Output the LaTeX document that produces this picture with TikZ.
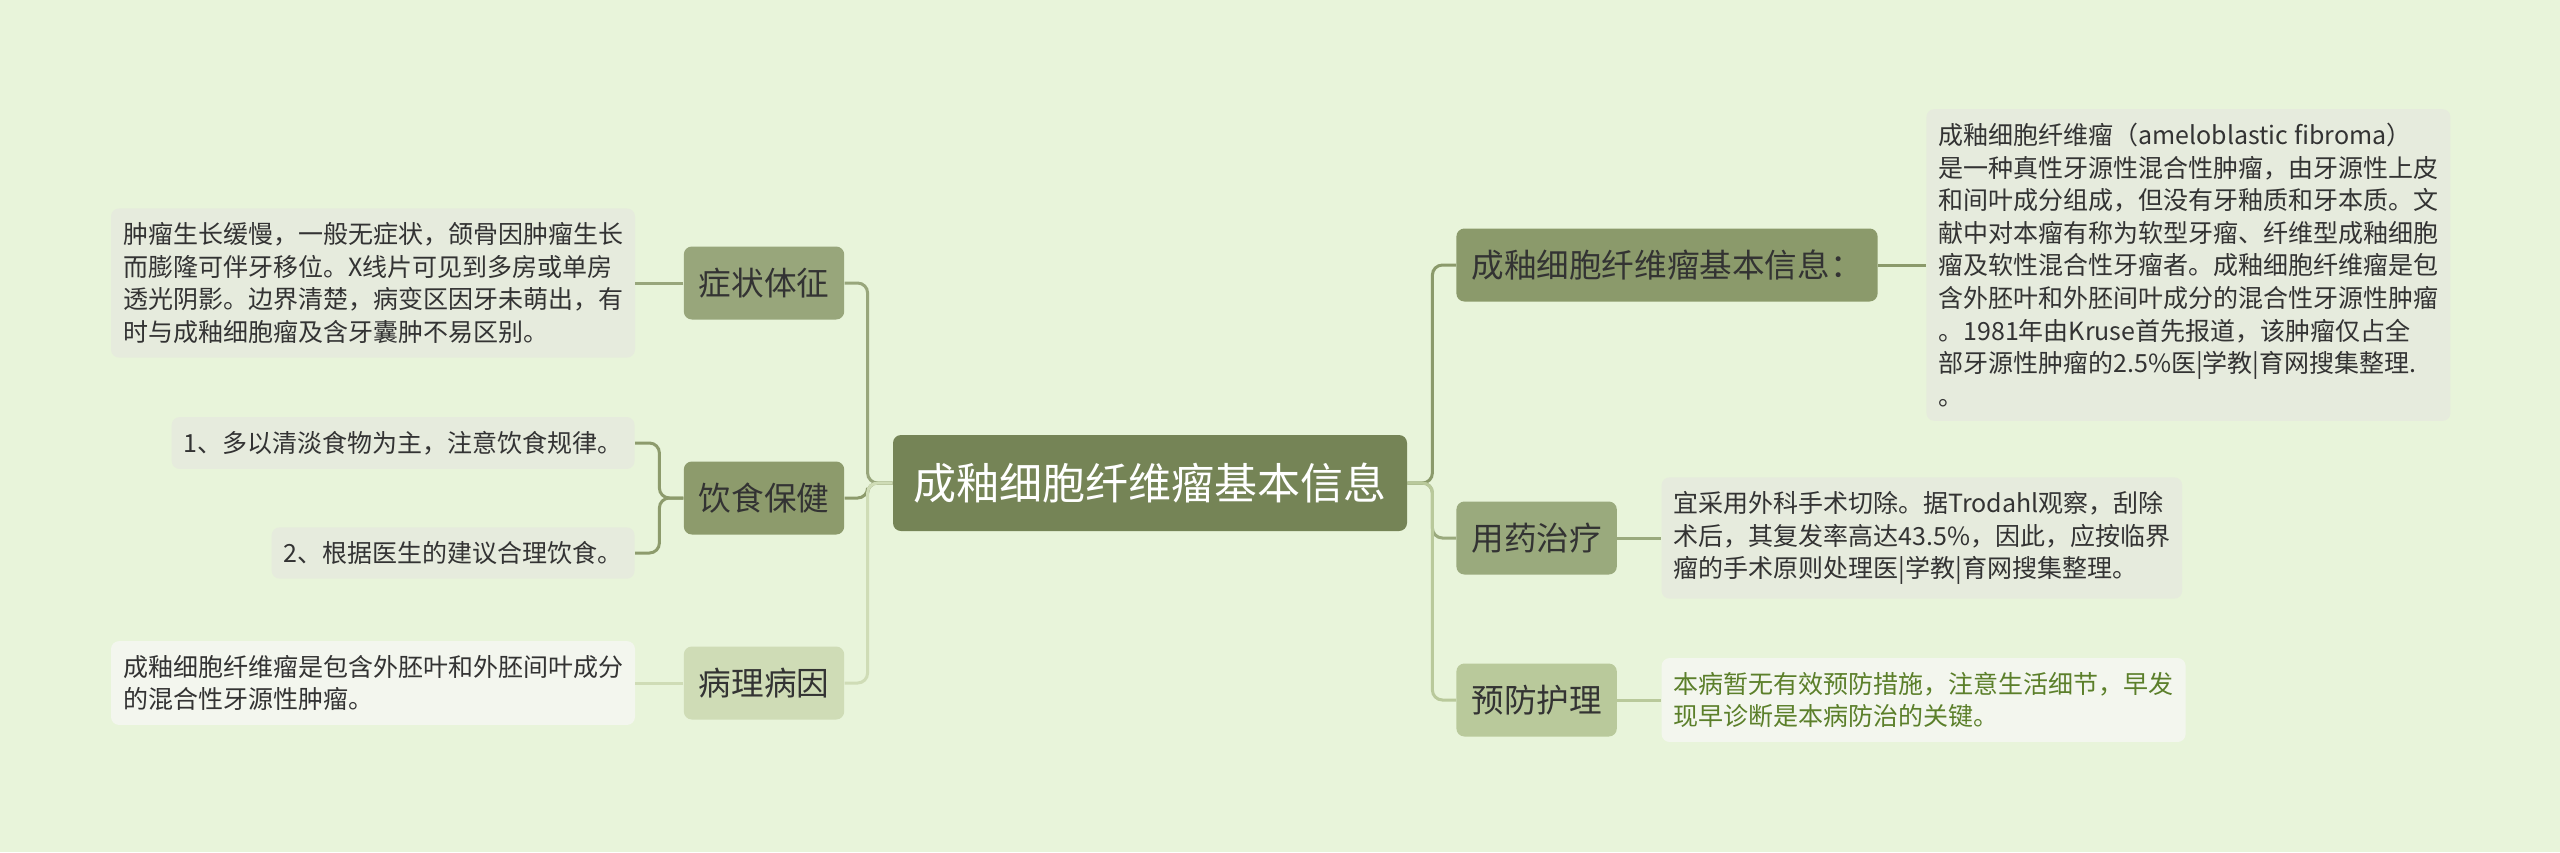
\documentclass[tikz,border=0pt]{standalone}
\usepackage{fontspec}
\setmainfont{Noto Sans CJK SC}
\usetikzlibrary{positioning}

\definecolor{bgcol}{HTML}{E8F4DA}
\definecolor{rootcol}{HTML}{758456}
\definecolor{symcol}{HTML}{98A67B}
\definecolor{dietcol}{HTML}{8D9B6C}
\definecolor{pathcol}{HTML}{CFDCB6}
\definecolor{infocol}{HTML}{8B9A6B}
\definecolor{drugcol}{HTML}{9AAA7D}
\definecolor{prevcol}{HTML}{B9C99B}
\definecolor{leafcol}{HTML}{E6EBDD}
\definecolor{leaflt}{HTML}{F3F6EE}
\definecolor{txtcol}{HTML}{333333}
\definecolor{greentxt}{HTML}{5B7F2A}

\begin{document}
\begin{tikzpicture}[
    x=0.5pt, y=-0.5pt,
    node distance=24pt,
    root/.style={rectangle, rounded corners=4pt, fill=rootcol, text=white,
        minimum width=257pt, minimum height=48pt,
        font=\fontsize{21.5}{26}\selectfont},
    branch/.style={rectangle, rounded corners=4pt, text=txtcol, inner xsep=7.5pt,
        minimum height=36.5pt, font=\fontsize{16.3}{20}\selectfont},
    leaf/.style={rectangle, rounded corners=4pt, fill=leafcol, text=txtcol, align=left,
        inner xsep=6pt, inner ysep=7pt, font=\fontsize{12.5}{16.3}\selectfont},
    link/.style={line width=1.5pt, rounded corners=5pt}
]
    \useasboundingbox[fill=bgcol] (0,0) rectangle (2560,852);

    \node[root] (root) at (1150,483) {成釉细胞纤维瘤基本信息};

    % left side
    \node[branch, fill=symcol] (sym) at (764,283) {症状体征};
    \node[branch, fill=dietcol] (diet) at (764,498) {饮食保健};
    \node[branch, fill=pathcol] (path) at (764,683) {病理病因};

    \node[leaf, left=of sym] (symleaf) {肿瘤生长缓慢，一般无症状，颌骨因肿瘤生长\\
        而膨隆可伴牙移位。X线片可见到多房或单房\\
        透光阴影。边界清楚，病变区因牙未萌出，有\\
        时与成釉细胞瘤及含牙囊肿不易区别。};
    \node[leaf, anchor=east] (diet1) at (635,443) {1、多以清淡食物为主，注意饮食规律。};
    \node[leaf, anchor=east] (diet2) at (635,553) {2、根据医生的建议合理饮食。};
    \node[leaf, fill=leaflt, left=of path] (pathleaf) {成釉细胞纤维瘤是包含外胚叶和外胚间叶成分\\
        的混合性牙源性肿瘤。};

    % right side
    \node[branch, fill=infocol, anchor=west] (info) at (1456,265) {成釉细胞纤维瘤基本信息：};
    \node[branch, fill=drugcol, anchor=west] (drug) at (1456,538) {用药治疗};
    \node[branch, fill=prevcol, anchor=west] (prev) at (1456,700) {预防护理};

    \node[leaf, right=of info] (infoleaf) {成釉细胞纤维瘤（ameloblastic fibroma）\\
        是一种真性牙源性混合性肿瘤，由牙源性上皮\\
        和间叶成分组成，但没有牙釉质和牙本质。文\\
        献中对本瘤有称为软型牙瘤、纤维型成釉细胞\\
        瘤及软性混合性牙瘤者。成釉细胞纤维瘤是包\\
        含外胚叶和外胚间叶成分的混合性牙源性肿瘤\\
        。1981年由Kruse首先报道，该肿瘤仅占全\\
        部牙源性肿瘤的2.5\%医|学教|育网搜集整理.\\
        。};
    \node[leaf, right=22pt of drug] (drugleaf) {宜采用外科手术切除。据Trodahl观察，刮除\\
        术后，其复发率高达43.5\%，因此，应按临界\\
        瘤的手术原则处理医|学教|育网搜集整理。};
    \node[leaf, fill=leaflt, text=greentxt, right=22pt of prev] (prevleaf) {本病暂无有效预防措施，注意生活细节，早发\\
        现早诊断是本病防治的关键。};

    % connectors root to branches
    \draw[link, symcol] (root.west) -- ++(-12.5pt,0) |- (sym.east);
    \draw[link, dietcol] (root.west) -- ++(-12.5pt,0) |- (diet.east);
    \draw[link, pathcol] (root.west) -- ++(-12.5pt,0) |- (path.east);
    \draw[link, infocol] (root.east) -- ++(12.5pt,0) |- (info.west);
    \draw[link, drugcol] (root.east) -- ++(12.5pt,0) |- (drug.west);
    \draw[link, prevcol] (root.east) -- ++(12.5pt,0) |- (prev.west);

    % connectors branches to leaves
    \draw[link, symcol] (sym.west) -- (symleaf.east);
    \draw[link, dietcol] (diet.west) -- ++(-12pt,0) |- (diet1.east);
    \draw[link, dietcol] (diet.west) -- ++(-12pt,0) |- (diet2.east);
    \draw[link, pathcol] (path.west) -- (pathleaf.east);
    \draw[link, infocol] (info.east) -- (infoleaf.west);
    \draw[link, drugcol] (drug.east) -- (drugleaf.west);
    \draw[link, prevcol] (prev.east) -- (prevleaf.west);
\end{tikzpicture}
\end{document}
